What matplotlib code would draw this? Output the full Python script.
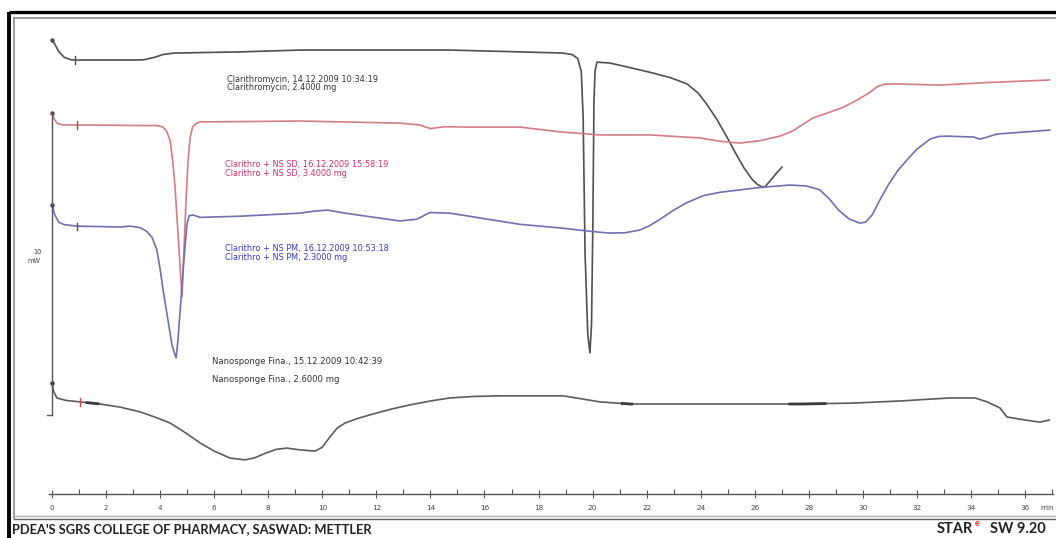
import matplotlib
matplotlib.use("Agg")
import matplotlib.pyplot as plt
from matplotlib.ticker import MultipleLocator
import numpy as np

# ---------------- data: DSC heat flow curves (time in min, heat flow in mW, stacked) ----------------
clar_t = [0.00, 0.10, 0.25, 0.45, 0.70, 0.85, 3.00, 3.40, 3.80, 4.10, 4.50, 7.00, 9.18, 14.72,
          17.31, 18.91, 19.25, 19.45, 19.58, 19.65, 19.72, 19.82, 19.90, 19.96, 20.01, 20.05,
          20.09, 20.16, 20.64, 21.38, 22.23, 22.90, 23.49, 23.90, 24.23, 24.60, 24.97, 25.25,
          25.60, 25.90, 26.10, 26.25, 26.38, 26.55, 26.80, 27.01]
clar_mw = [15.03, 14.90, 14.65, 14.46, 14.38, 14.37, 14.37, 14.38, 14.46, 14.55, 14.60, 14.64, 14.70, 14.70,
           14.64, 14.60, 14.55, 14.42, 14.00, 12.50, 8.00, 5.30, 4.67, 5.60, 9.00, 13.00,
           14.00, 14.30, 14.27, 14.12, 13.94, 13.78, 13.58, 13.28, 12.90, 12.40, 11.82, 11.35,
           10.80, 10.42, 10.25, 10.18, 10.17, 10.35, 10.62, 10.83]

sd_t = [0.00, 0.08, 0.20, 0.40, 0.92, 3.50, 3.90, 4.11, 4.25, 4.37, 4.47, 4.55, 4.66, 4.81, 4.88,
        4.96, 5.03, 5.11, 5.20, 5.35, 5.48, 9.18, 12.87, 13.60, 14.00, 14.50, 15.46, 17.31, 18.80,
        20.27, 22.12, 23.97, 24.71, 25.45, 26.19, 26.93, 27.40, 27.80, 28.15, 28.70, 29.26, 29.80,
        30.26, 30.55, 30.80, 31.20, 32.85, 34.50, 36.92]
sd_mw = [12.62, 12.42, 12.27, 12.22, 12.22, 12.20, 12.20, 12.15, 12.00, 11.70, 11.00, 10.20, 8.64, 6.52, 8.08,
         9.74, 11.00, 11.80, 12.15, 12.28, 12.32, 12.35, 12.28, 12.22, 12.10, 12.16, 12.15, 12.15, 11.99,
         11.89, 11.89, 11.79, 11.68, 11.62, 11.70, 11.85, 12.02, 12.25, 12.45, 12.62, 12.80, 13.05,
         13.30, 13.50, 13.57, 13.58, 13.54, 13.62, 13.71]

pm_t = [0.00, 0.10, 0.25, 0.45, 0.92, 2.52, 2.89, 3.26, 3.50, 3.70, 3.88, 4.00, 4.11, 4.29, 4.44,
        4.59, 4.66, 4.77, 4.88, 4.99, 5.07, 5.22, 5.48, 7.00, 9.18, 9.73, 10.20, 10.84, 12.87,
        13.50, 13.98, 14.72, 15.83, 17.31, 18.80, 19.90, 20.60, 21.20, 21.75, 22.10, 22.50, 23.00,
        23.49, 24.10, 24.71, 26.19, 27.30, 27.90, 28.41, 28.78, 29.10, 29.50, 29.89, 30.10, 30.35,
        30.63, 30.95, 31.30, 31.63, 32.00, 32.48, 32.80, 33.11, 34.10, 34.33, 34.60, 34.96, 36.92]
pm_mw = [9.57, 9.25, 9.00, 8.92, 8.87, 8.84, 8.87, 8.82, 8.70, 8.50, 8.08, 7.45, 6.75, 5.76, 4.93,
         4.50, 5.10, 6.42, 7.75, 8.91, 9.21, 9.24, 9.16, 9.20, 9.30, 9.37, 9.40, 9.30, 9.04,
         9.10, 9.32, 9.30, 9.14, 8.93, 8.81, 8.70, 8.64, 8.65, 8.74, 8.88, 9.10, 9.40,
         9.65, 9.88, 9.99, 10.15, 10.23, 10.20, 10.07, 9.75, 9.40, 9.10, 8.97, 9.00, 9.25,
         9.74, 10.25, 10.72, 11.06, 11.42, 11.75, 11.84, 11.85, 11.82, 11.75, 11.82, 11.92, 12.05]

ns_t = [0.00, 0.06, 0.18, 0.50, 1.04, 1.78, 2.50, 3.26, 3.80, 4.37, 4.90, 5.48, 6.00, 6.59, 7.14,
        7.50, 7.90, 8.30, 8.70, 9.18, 9.73, 10.00, 10.28, 10.55, 10.84, 11.30, 11.76, 12.50, 13.24,
        14.00, 14.72, 15.60, 16.57, 18.91, 19.60, 20.27, 21.38, 27.67, 29.63, 31.37, 33.22, 34.15,
        34.60, 35.07, 35.33, 36.00, 36.55, 36.90]
ns_mw = [3.68, 3.40, 3.18, 3.10, 3.05, 2.98, 2.88, 2.72, 2.55, 2.35, 2.05, 1.69, 1.42, 1.19, 1.13,
         1.20, 1.35, 1.48, 1.52, 1.46, 1.42, 1.55, 1.89, 2.18, 2.35, 2.50, 2.62, 2.80, 2.95,
         3.08, 3.18, 3.23, 3.25, 3.25, 3.15, 3.05, 2.98, 2.98, 3.01, 3.08, 3.18, 3.18,
         3.05, 2.85, 2.55, 2.45, 2.38, 2.45]

curve_labels = [
    ("Clarithromycin, 14.12.2009 10:34:19", "Clarithromycin, 2.4000 mg"),
    ("Clarithro + NS SD, 16.12.2009 15:58:19", "Clarithro + NS SD, 3.4000 mg"),
    ("Clarithro + NS PM, 16.12.2009 10:53:18", "Clarithro + NS PM, 2.3000 mg"),
    ("Nanosponge Fina., 15.12.2009 10:42:39", "Nanosponge Fina., 2.6000 mg"),
]
scale_mw = 10
scale_bottom_mw = 2.62
time_ticks = list(range(0, 37, 2))

# ---------------- layout ----------------
W, H = 1056, 538
X0, PX_MIN = 52, 27.03      # pixel of t = 0, pixels per minute
Y0, PX_MW = 494, 30.2       # pixel of 0 mW, pixels per mW

fig = plt.figure(figsize=(W / 100, H / 100), dpi=100)
fig.patch.set_facecolor("white")

ax = fig.add_axes([0, 0, 1, 1])
ax.set_xlim(-X0 / PX_MIN, (W - X0) / PX_MIN)
ax.set_ylim(-(H - Y0) / PX_MW, Y0 / PX_MW)
ax.axis("off")

# overlay in pixel coordinates for frame and annotations
axp = fig.add_axes([0, 0, 1, 1], zorder=3)
axp.set_xlim(0, W)
axp.set_ylim(H, 0)
axp.axis("off")
axp.patch.set_alpha(0)

black_c = "#505050"
red_c = "#d47c84"
blue_c = "#7070b0"

line_kw = dict(lw=1.2, solid_joinstyle="round", solid_capstyle="round")
ax.plot(clar_t, clar_mw, color=black_c, **line_kw)
ax.plot(sd_t, sd_mw, color=red_c, **line_kw)
ax.plot(pm_t, pm_mw, color=blue_c, **line_kw)
ax.plot(ns_t, ns_mw, color="#5c5c5c", **line_kw)

# start dots and integration markers
for tt, yy, c in [(clar_t, clar_mw, black_c), (sd_t, sd_mw, "#804040"),
                  (pm_t, pm_mw, "#404070"), (ns_t, ns_mw, "#303030")]:
    ax.plot(tt[0], yy[0], marker="o", ms=2.2, color=c)
for tt, yy, c, tm in [(clar_t, clar_mw, black_c, 0.85), (sd_t, sd_mw, "#a05050", 0.92),
                      (pm_t, pm_mw, "#505080", 0.92), (ns_t, ns_mw, "#e04050", 1.04)]:
    yv = np.interp(tm, tt, yy)
    ax.plot([tm, tm], [yv - 0.12, yv + 0.12], color=c, lw=1.0)

# darker stretches on the nanosponge trace
for a, b in [(1.3, 1.7), (21.1, 21.45), (27.3, 28.6)]:
    seg_t = np.linspace(a, b, 11)
    seg_y = np.interp(seg_t, ns_t, ns_mw)
    ax.plot(seg_t, seg_y, color="#3a3a3a", lw=2.0)

# heat-flow scale bar
ax.plot([0, 0], [scale_bottom_mw, scale_bottom_mw + scale_mw], color="#555555", lw=1.0)
ax.plot([-0.18, 0], [scale_bottom_mw, scale_bottom_mw], color="#555555", lw=1.0)
axp.text(37, 252, f"{scale_mw}", fontsize=4.8, color="#444444", ha="center", va="center")
axp.text(34, 261, "mW", fontsize=4.8, color="#444444", ha="center", va="center")

# curve captions
small = dict(fontsize=5.9, ha="left", va="center")
axp.text(227, 80, curve_labels[0][0], color="#333333", **small)
axp.text(227, 88, curve_labels[0][1], color="#333333", **small)
axp.text(225, 165, curve_labels[1][0], color="#d0306a", **small)
axp.text(225, 173, curve_labels[1][1], color="#d0306a", **small)
axp.text(225, 248, curve_labels[2][0], color="#3a3ac0", **small)
axp.text(225, 257, curve_labels[2][1], color="#3a3ac0", **small)
axp.text(212, 362, curve_labels[3][0], color="#333333", fontsize=6.1, ha="left", va="center")
axp.text(212, 379, curve_labels[3][1], color="#333333", fontsize=6.1, ha="left", va="center")

# time axis
ax_t = fig.add_axes([49 / W, (H - Y0) / H, (1053 - 49) / W, 1e-6])
ax_t.set_xlim((49 - X0) / PX_MIN, (1053 - X0) / PX_MIN)
ax_t.set_yticks([])
for s in ("top", "left", "right"):
    ax_t.spines[s].set_visible(False)
ax_t.spines["bottom"].set_color("#555555")
ax_t.spines["bottom"].set_linewidth(1.0)
ax_t.set_xticks(time_ticks)
ax_t.set_xticklabels([str(v) for v in time_ticks])
ax_t.xaxis.set_minor_locator(MultipleLocator(1))
ax_t.tick_params(axis="x", which="major", direction="inout", length=6, width=0.8,
                 color="#555555", labelsize=5.2, labelcolor="#444444", pad=5)
ax_t.tick_params(axis="x", which="minor", direction="in", length=3.5, width=0.8, color="#555555")
ax_t.patch.set_alpha(0)
axp.text(1047, 508, "min", fontsize=5.2, color="#444444", ha="center", va="center")

# frame lines
axp.plot([9, 9], [12, H], color="black", lw=2.8, solid_capstyle="butt")
axp.plot([9, W], [12, 12], color="black", lw=2.4, solid_capstyle="butt")
axp.plot([14, 14], [18, 518], color="#8a8a8a", lw=1.2)
axp.plot([14, W], [18, 18], color="#8a8a8a", lw=1.2)
axp.plot([14, W], [516, 516], color="#b0b0b0", lw=1.0)
axp.plot([14, W], [519, 519], color="#606060", lw=1.0)

# footer
foot = dict(fontweight="bold", family="Lato", color="#222222", ha="left", va="center")
axp.text(12, 529, "PDEA'S SGRS COLLEGE OF PHARMACY, SASWAD: METTLER", fontsize=9.3, **foot)
axp.text(937, 529, "STAR", fontsize=10.5, **foot)
axp.text(975, 524, "e", fontsize=6.5, fontweight="bold", family="Lato",
         color="#e03030", ha="left", va="center")
axp.text(990, 529, "SW 9.20", fontsize=10.5, **foot)

fig.savefig("out.png", dpi=100, facecolor="white")
